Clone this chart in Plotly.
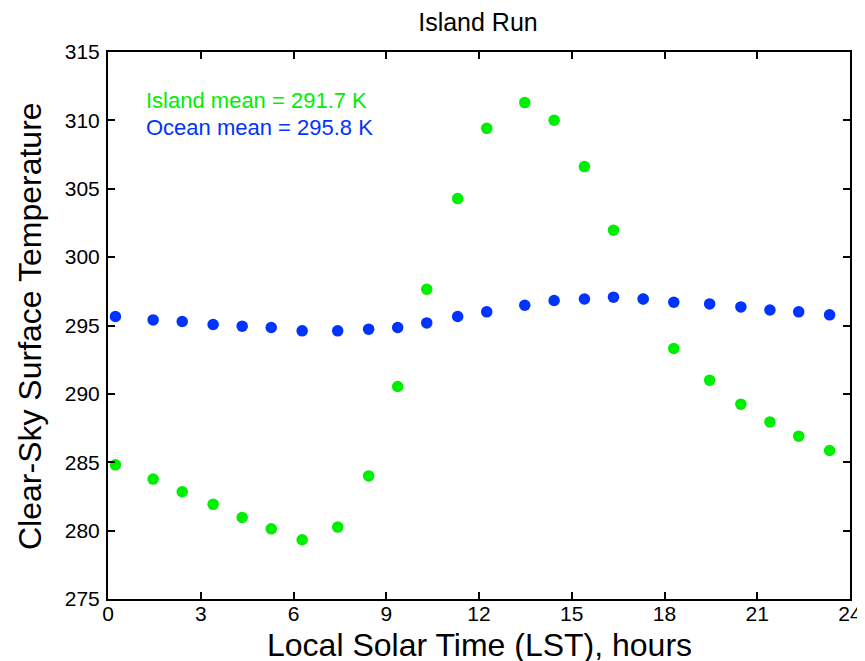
import plotly.graph_objects as go

hours = [0.24, 1.46, 2.40, 3.40, 4.34, 5.28, 6.28, 7.43, 8.43, 9.37, 10.31, 11.31,
         12.25, 13.48, 14.43, 15.41, 16.35, 17.31, 18.30, 19.46, 20.47, 21.41, 22.34, 23.34]
island = [284.81, 283.77, 282.84, 281.92, 280.96, 280.13, 279.33, 280.26, 284.00, 290.54,
          297.65, 304.28, 309.42, 311.30, 310.01, 306.62, 301.97, 296.94, 293.32, 291.00,
          289.25, 287.95, 286.91, 285.86]
ocean = [295.66, 295.41, 295.29, 295.07, 294.95, 294.85, 294.61, 294.61, 294.73, 294.85,
         295.19, 295.66, 296.00, 296.48, 296.83, 296.94, 297.07, 296.94, 296.70, 296.58,
         296.36, 296.13, 296.00, 295.78]
x_ticks = [0, 3, 6, 9, 12, 15, 18, 21, 24]
y_ticks = [275, 280, 285, 290, 295, 300, 305, 310, 315]

GREEN = "#00ee00"
BLUE = "#0033ff"
FONT = "Liberation Sans, Arial, Helvetica, sans-serif"

fig = go.Figure()
fig.add_trace(go.Scatter(x=hours, y=island, mode="markers",
                         marker=dict(color=GREEN, size=11.5, line=dict(width=0)),
                         name="Island", showlegend=False))
fig.add_trace(go.Scatter(x=hours, y=ocean, mode="markers",
                         marker=dict(color=BLUE, size=11.5, line=dict(width=0)),
                         name="Ocean", showlegend=False))

axis_common = dict(showgrid=False, zeroline=False, showline=True, linecolor="black",
                   linewidth=2, mirror="ticks", ticks="inside", ticklen=7, tickwidth=1.5,
                   tickcolor="black", automargin=False, ticklabeloverflow="allow",
                   tickfont=dict(family=FONT, size=21, color="black"))

fig.update_xaxes(range=[0, 24], tickvals=x_ticks, ticktext=[str(v) for v in x_ticks],
                 ticklabelstandoff=-5, **axis_common)
fig.update_yaxes(range=[275, 315], tickvals=y_ticks, ticktext=[str(v) for v in y_ticks],
                 ticklabelstandoff=2, **axis_common)

# Axis titles
fig.add_annotation(x=0.5, y=-0.0841, xref="paper", yref="paper", xanchor="center", yanchor="middle",
                   text="Local Solar Time (LST), hours", showarrow=False,
                   font=dict(family=FONT, size=32, color="black"))
fig.add_annotation(x=-0.1058, y=0.5, xref="paper", yref="paper", xanchor="center", yanchor="middle",
                   text="Clear-Sky Surface Temperature", showarrow=False, textangle=-90,
                   font=dict(family=FONT, size=32, color="black"))

fig.add_annotation(x=0.048, y=0.911, xref="paper", yref="paper", xanchor="left", yanchor="middle",
                   text="Island mean = 291.7 K", showarrow=False,
                   font=dict(family=FONT, size=22, color=GREEN))
fig.add_annotation(x=0.048, y=0.8625, xref="paper", yref="paper", xanchor="left", yanchor="middle",
                   text="Ocean mean = 295.8 K", showarrow=False,
                   font=dict(family=FONT, size=22, color=BLUE))

# The page adds an 8px body margin, so the figure is offset to land where the reference is.
fig.update_layout(
    width=857, height=653,
    margin=dict(l=100, r=15, t=44, b=62),
    paper_bgcolor="white", plot_bgcolor="white",
    title=dict(text="Island Run", x=0.5484, xanchor="center", y=0.9778, yanchor="middle",
               font=dict(family=FONT, size=25, color="black")),
)

fig.write_html("out.html")
